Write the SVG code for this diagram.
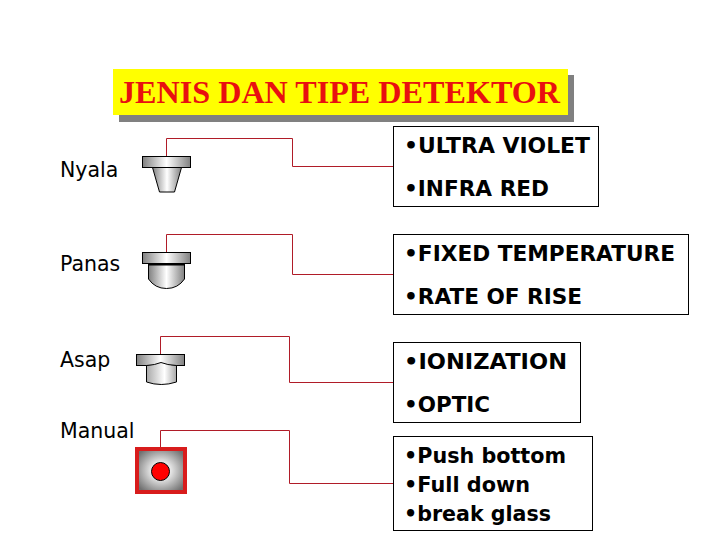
<svg xmlns="http://www.w3.org/2000/svg" width="720" height="540" viewBox="0 0 720 540">
<style>
.t{font-family:"DejaVu Sans",Verdana,sans-serif;font-size:20.500px;fill:#000}
.b{font-family:"DejaVu Sans",Verdana,sans-serif;font-size:22px;font-weight:700;fill:#000}
.box{fill:#fff;stroke:#000;stroke-width:1}
.c{fill:none;stroke:#b01c28;stroke-width:1}
.s{stroke:#000;stroke-width:1}
</style>
<defs>
<linearGradient id="g" x1="0" x2="1" y1="0" y2="0"><stop offset="0" stop-color="#808080"/><stop offset=".5" stop-color="#fff"/><stop offset="1" stop-color="#808080"/></linearGradient>
<linearGradient id="l" x1="0" x2="1" y1="0" y2="0"><stop offset="0" stop-color="#a8a8a8"/><stop offset=".6" stop-color="#fff"/><stop offset="1" stop-color="#a8a8a8"/></linearGradient>
<radialGradient id="r" r=".6"><stop offset="0" stop-color="#f4f4f4"/><stop offset=".35" stop-color="#e4e4e4"/><stop offset="1" stop-color="#707070"/></radialGradient>
</defs>
<rect width="720" height="540" fill="#fff"/>
<g id="title">
<rect x="119" y="75" width="455" height="47" fill="#808080"/>
<rect x="113" y="69" width="455" height="46" fill="#ff0"/>
<text x="119" y="103" font-family="'Liberation Serif',serif" font-size="32" font-weight="700" fill="#e81010" textLength="441" lengthAdjust="spacingAndGlyphs">JENIS DAN TIPE DETEKTOR</text>
</g>
<g id="connectors">
<path class="c" d="M166.500 157V138.500H292.500V166.500H393"/>
<path class="c" d="M166.500 253V234.500H292.500V274.500H393"/>
<path class="c" d="M160.500 354V336.500H289.500V382.500H393"/>
<path class="c" d="M160.500 448V430.500H289.500V483.500H393"/>
</g>
<g id="nyala">
<text class="t" x="60" y="177">Nyala</text>
<rect class="s" x="142.500" y="156.500" width="48" height="11" fill="url(#g)"/>
<path class="s" d="M152.500 167.500H181.500L174.500 192H159.500Z" fill="url(#g)"/>
</g>
<g id="panas">
<text class="t" x="60" y="271">Panas</text>
<path class="s" d="M148.500 264H184.500V279Q178 288.500 166.500 288.500Q155 288.500 148.500 279Z" fill="url(#g)"/>
<rect class="s" x="142.500" y="252.500" width="48" height="11" fill="url(#g)"/>
<path d="M148 264.500H185" stroke="#000" stroke-width="2"/>
</g>
<g id="asap">
<text class="t" x="60" y="367">Asap</text>
<rect class="s" x="136.500" y="354.500" width="48" height="11" fill="url(#g)"/>
<path class="s" d="M146.500 365.500Q155 365 161 362.500Q167 365 176.500 365.500V382Q161 387 146.500 382Z" fill="url(#l)"/>
</g>
<g id="manual">
<text class="t" x="60" y="438">Manual</text>
<rect x="137" y="449" width="48" height="43" fill="url(#r)" stroke="#d81c1c" stroke-width="4"/>
<circle class="s" cx="160.500" cy="471.500" r="9" fill="#f00"/>
</g>
<g id="box1">
<rect class="box" x="393.500" y="126.500" width="205" height="80"/>
<text class="b" x="404" y="153" textLength="186" lengthAdjust="spacingAndGlyphs">•ULTRA VIOLET</text>
<text class="b" x="404" y="196" textLength="145" lengthAdjust="spacingAndGlyphs">•INFRA RED</text>
</g>
<g id="box2">
<rect class="box" x="393.500" y="234.500" width="295" height="80"/>
<text class="b" x="404" y="261" textLength="271" lengthAdjust="spacingAndGlyphs">•FIXED TEMPERATURE</text>
<text class="b" x="404" y="304" textLength="178" lengthAdjust="spacingAndGlyphs">•RATE OF RISE</text>
</g>
<g id="box3">
<rect class="box" x="393.500" y="342.500" width="187" height="80"/>
<text class="b" x="404" y="369" textLength="163" lengthAdjust="spacingAndGlyphs">•IONIZATION</text>
<text class="b" x="404" y="412" textLength="86" lengthAdjust="spacingAndGlyphs">•OPTIC</text>
</g>
<g id="box4">
<rect class="box" x="393.500" y="436.500" width="199" height="94"/>
<text class="b" x="404" y="463" textLength="162" lengthAdjust="spacingAndGlyphs">•Push bottom</text>
<text class="b" x="404" y="492" textLength="126" lengthAdjust="spacingAndGlyphs">•Full down</text>
<text class="b" x="404" y="521" textLength="147" lengthAdjust="spacingAndGlyphs">•break glass</text>
</g>
</svg>
